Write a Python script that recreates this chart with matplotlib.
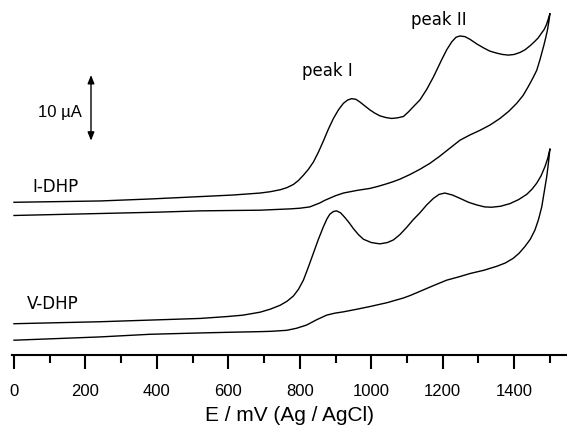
import matplotlib
matplotlib.use("Agg")
import matplotlib.pyplot as plt
from matplotlib.patches import FancyArrowPatch
from matplotlib.ticker import MultipleLocator

# potential (mV) and current (uA, curves already stacked)
idhp_fwd_mv = [0, 241, 381, 613, 689, 717, 745, 763, 782, 796, 810, 824, 838, 852, 866, 880,
               894, 908, 922, 934, 945, 957, 968, 982, 996, 1010, 1024, 1040, 1057, 1074, 1090,
               1104, 1118, 1136, 1155, 1174, 1197, 1211, 1225, 1237, 1248, 1262, 1276, 1295,
               1314, 1332, 1351, 1367, 1384, 1400, 1416, 1430, 1444, 1456, 1467, 1476, 1484,
               1490, 1495, 1500]
idhp_fwd_ua = [23.9, 24.1, 24.4, 25.0, 25.3, 25.5, 25.8, 26.1, 26.6, 27.2, 28.0, 28.9, 30.0,
               31.5, 33.2, 35.0, 36.6, 37.9, 38.9, 39.4, 39.6, 39.5, 39.1, 38.5, 37.9, 37.4,
               37.0, 36.75, 36.6, 36.7, 36.9, 37.6, 38.4, 39.4, 41.0, 42.9, 45.5, 47.0, 48.2,
               48.9, 49.1, 49.0, 48.6, 47.9, 47.3, 46.8, 46.5, 46.3, 46.2, 46.3, 46.6, 47.0,
               47.6, 48.2, 48.8, 49.5, 50.1, 50.8, 51.6, 52.5]
idhp_rev_mv = [1500, 1497, 1493, 1488, 1483, 1472, 1463, 1452, 1439, 1425, 1407, 1385, 1360,
               1332, 1304, 1276, 1248, 1220, 1192, 1164, 1136, 1108, 1080, 1060, 1040, 1018, 996,
               960, 922, 900, 870, 856, 828, 800, 773, 730, 689, 600, 521, 400, 241, 0]
idhp_rev_ua = [52.5, 51.3, 50.0, 48.8, 47.7, 45.5, 43.9, 42.7, 41.4, 40.1, 38.9, 37.7, 36.6,
               35.6, 34.8, 34.1, 33.3, 32.1, 30.9, 29.8, 28.9, 28.1, 27.4, 27.0, 26.65, 26.3,
               26.0, 25.7, 25.3, 24.9, 24.2, 23.8, 23.2, 23.0, 22.9, 22.8, 22.7, 22.65, 22.6,
               22.4, 22.2, 21.9]

vdhp_fwd_mv = [0, 241, 521, 600, 641, 689, 717, 745, 764, 782, 796, 810, 824, 838, 852, 866, 876,
               884, 894, 903, 914, 926, 938, 950, 964, 978, 1000, 1024, 1045, 1062, 1080, 1099,
               1118, 1136, 1155, 1174, 1190, 1206, 1227, 1248, 1272, 1295, 1317, 1337, 1362,
               1388, 1412, 1435, 1450, 1463, 1475, 1486, 1494, 1500]
vdhp_fwd_ua = [5.5, 5.8, 6.3, 6.6, 6.8, 7.25, 7.7, 8.3, 8.9, 9.7, 10.7, 12.1, 14.1, 16.2, 18.3,
               20.2, 21.4, 22.1, 22.5, 22.6, 22.3, 21.6, 20.8, 19.9, 19.0, 18.3, 17.8, 17.6, 17.8,
               18.2, 19.0, 20.1, 21.3, 22.3, 23.5, 24.5, 25.1, 25.3, 25.0, 24.5, 23.9, 23.5,
               23.2, 23.15, 23.3, 23.7, 24.3, 25.1, 25.9, 26.8, 27.9, 29.3, 30.6, 32.0]
vdhp_rev_mv = [1500, 1496, 1491, 1484, 1477, 1468, 1458, 1445, 1430, 1414, 1397, 1375, 1351,
               1315, 1276, 1245, 1211, 1175, 1136, 1110, 1090, 1045, 996, 960, 922, 898, 875,
               847, 819, 790, 763, 720, 689, 600, 521, 381, 241, 0]
vdhp_rev_ua = [32.0, 30.0, 27.8, 25.5, 23.2, 21.3, 19.7, 18.3, 17.2, 16.2, 15.4, 14.7, 14.2,
               13.6, 13.1, 12.6, 12.1, 11.3, 10.4, 9.8, 9.4, 8.7, 8.1, 7.7, 7.3, 7.1, 6.8, 6.1,
               5.3, 4.8, 4.5, 4.35, 4.3, 4.2, 4.1, 3.9, 3.5, 3.0]

curve_labels = ["I-DHP", "V-DHP"]
peak_labels = ["peak I", "peak II"]
scale_label = "10 \u00b5A"
xlabel = "E / mV (Ag / AgCl)"

W, H = 567, 429
fig = plt.figure(figsize=(W / 100, H / 100), dpi=100)
ax = fig.add_axes([11.7 / W, 74 / H, 1 - 11.7 / W, 355 / H])

for mv, ua in [(idhp_fwd_mv + idhp_rev_mv, idhp_fwd_ua + idhp_rev_ua),
               (vdhp_fwd_mv + vdhp_rev_mv, vdhp_fwd_ua + vdhp_rev_ua)]:
    ax.plot(mv, ua, color="black", lw=1.0, solid_joinstyle="round")

ax.set_xlim(-6.4, 1547.7)
ax.set_ylim(0.76, 54.55)

for side in ["left", "top", "right"]:
    ax.spines[side].set_visible(False)
ax.spines["bottom"].set_linewidth(1.5)
ax.set_yticks([])
ax.xaxis.set_minor_locator(MultipleLocator(100))
ax.set_xticks([0, 200, 400, 600, 800, 1000, 1200, 1400])
ax.tick_params(axis="x", which="major", direction="out", length=10, width=1.5, pad=11,
               labelsize=12, labelfontfamily="Liberation Sans")
ax.tick_params(axis="x", which="minor", direction="out", length=5.5, width=1.5)
ax.set_xlabel(xlabel, fontsize=15, family="Liberation Sans", labelpad=5)


def px(x, y):
    return x / W, 1 - y / H


fig.text(*px(56, 192.3), curve_labels[0], ha="center", va="baseline", fontsize=12, family="DejaVu Sans")
fig.text(*px(53, 309), curve_labels[1], ha="center", va="baseline", fontsize=12, family="DejaVu Sans")
fig.text(*px(327, 76), peak_labels[0], ha="center", va="baseline", fontsize=12, family="DejaVu Sans")
fig.text(*px(439, 25), peak_labels[1], ha="center", va="baseline", fontsize=12, family="DejaVu Sans")
fig.text(*px(38, 116.7), scale_label, ha="left", va="baseline", fontsize=12, family="Liberation Sans")

fig.add_artist(FancyArrowPatch(
    px(91, 75), px(91, 140.7), transform=fig.transFigure,
    arrowstyle="<|-|>,head_length=0.5,head_width=0.2", mutation_scale=10,
    color="black", lw=1.0, shrinkA=0, shrinkB=0))

fig.savefig("out.png", dpi=100)
